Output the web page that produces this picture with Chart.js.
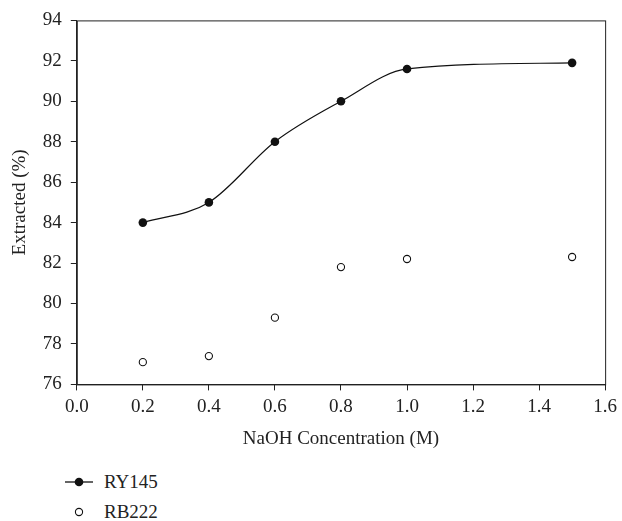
<!DOCTYPE html>
<html>
<head>
<meta charset="utf-8">
<script src="https://cdn.jsdelivr.net/npm/chart.js@4"></script>
<style>
    body { margin: 0; background: #fff; }
    #wrap { position: absolute; left: 0; top: 0; width: 622px; height: 457px; }
    #legend { position: absolute; left: 64px; top: 467px; font-family: 'Liberation Serif', serif; font-size: 19px; color: #222; }
    #legend div { height: 30px; display: flex; align-items: center; }
    #legend svg { width: 32px; height: 14px; margin-right: 8px; }
</style>
</head>
<body>
<div id="wrap"><canvas id="chart"></canvas></div>
<div id="legend">
    <div><svg viewBox="0 0 32 14"><line x1="1" y1="7" x2="29" y2="7" stroke="#111" stroke-width="1.3"/><circle cx="15" cy="7" r="4.3" fill="#111"/></svg>RY145</div>
    <div><svg viewBox="0 0 32 14"><circle cx="15" cy="7" r="3.6" fill="#fff" stroke="#111" stroke-width="1.1"/></svg>RB222</div>
</div>
<script>
const concentration = [0.2, 0.4, 0.6, 0.8, 1.0, 1.5];
const ry145 = [84.0, 85.0, 88.0, 90.0, 91.6, 91.9];
const rb222 = [77.1, 77.4, 79.3, 81.8, 82.2, 82.3];

const font = { family: "'Liberation Serif', serif", size: 19 };

const boxPlugin = {
    id: 'box',
    afterDraw(chart) {
        const a = chart.chartArea;
        const ctx = chart.ctx;
        ctx.save();
        ctx.strokeStyle = '#222';
        ctx.lineWidth = 1;
        ctx.strokeRect(a.left + 0.5, a.top + 0.5, a.right - a.left, a.bottom - a.top);
        ctx.restore();
    }
};

new Chart(document.getElementById('chart'), {
    type: 'line',
    data: {
        datasets: [{
            label: 'RY145',
            data: concentration.map((x, i) => ({ x: x, y: ry145[i] })),
            borderColor: '#111',
            borderWidth: 1.2,
            backgroundColor: '#111',
            pointRadius: 4.3,
            pointBorderWidth: 0,
            cubicInterpolationMode: 'monotone',
            fill: false
        }, {
            label: 'RB222',
            data: concentration.map((x, i) => ({ x: x, y: rb222[i] })),
            showLine: false,
            borderColor: '#111',
            backgroundColor: '#fff',
            pointRadius: 3.6,
            pointBorderWidth: 1.1
        }]
    },
    options: {
        responsive: true,
        maintainAspectRatio: false,
        animation: false,
        layout: { padding: { top: 20, right: 9, left: 5, bottom: 3 } },
        plugins: {
            legend: { display: false },
            tooltip: { enabled: false }
        },
        scales: {
            x: {
                type: 'linear',
                min: 0,
                max: 1.6,
                ticks: { stepSize: 0.2, color: '#222', font: font, padding: 5,
                    callback: v => v.toFixed(1) },
                grid: { drawOnChartArea: false, tickLength: 6, color: '#222' },
                border: { color: '#222' },
                title: { display: true, text: 'NaOH Concentration (M)', color: '#222', font: font, padding: { top: 4 } }
            },
            y: {
                min: 76,
                max: 94,
                ticks: { stepSize: 2, color: '#222', font: font, padding: 9 },
                grid: { drawOnChartArea: false, tickLength: 6, color: '#222' },
                border: { color: '#222' },
                title: { display: true, text: 'Extracted (%)', color: '#222', font: font, padding: { bottom: 2 } }
            }
        }
    },
    plugins: [boxPlugin]
});
</script>
</body>
</html>
